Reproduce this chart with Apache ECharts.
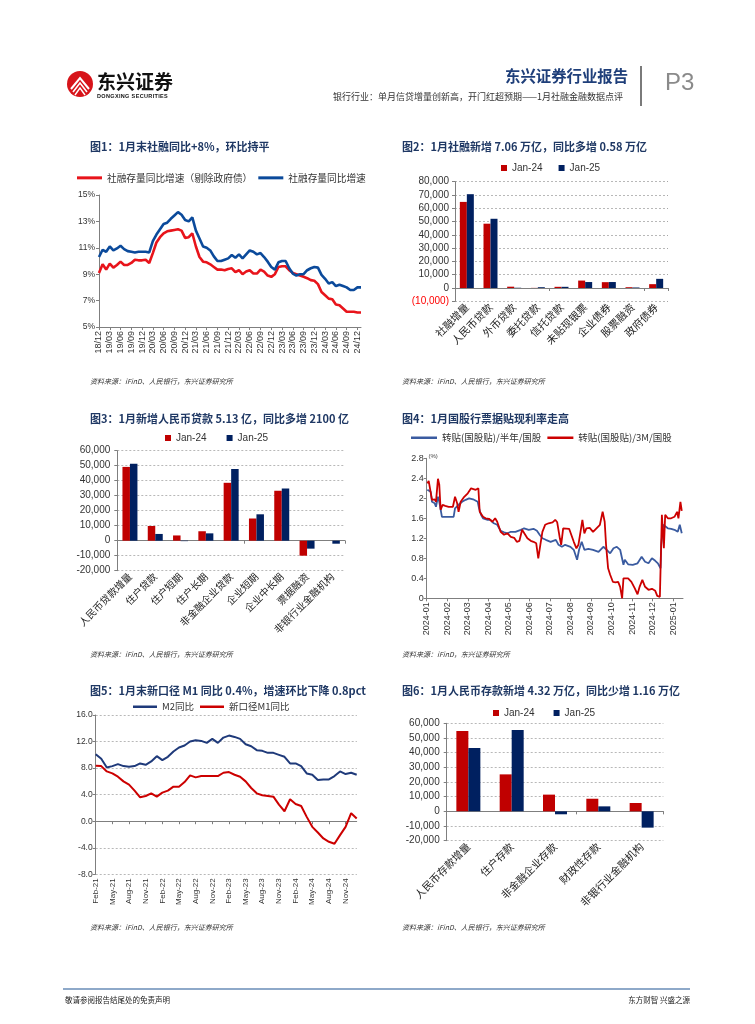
<!DOCTYPE html>
<html><head><meta charset="utf-8">
<script src="https://cdn.jsdelivr.net/npm/echarts/dist/echarts.min.js"></script>
<style>
html,body{margin:0;padding:0;background:#fff;}
#page{position:relative;width:755px;height:1024px;overflow:hidden;font-family:"Noto Sans CJK SC","Liberation Sans",sans-serif;}
#chart{position:absolute;left:0;top:0;width:755px;height:1024px;}
.t{position:absolute;white-space:nowrap;line-height:1;z-index:5;}
.title{font-size:11px;font-weight:bold;color:#1F3864;}
.src{font-size:7px;font-style:italic;color:#333;}
</style></head>
<body>
<div id="page">
  <div id="chart"></div>
  <svg class="t" style="left:66px;top:70px;" width="28" height="28" viewBox="0 0 28 28">
    <circle cx="14" cy="14" r="13" fill="#D7141A"/>
    <path d="M5,19 L14,8 L23,19" stroke="#fff" stroke-width="2" fill="none"/>
    <path d="M7,22 L14,13 L21,22" stroke="#fff" stroke-width="1.6" fill="none"/>
    <path d="M9,25 L14,18 L19,25" stroke="#fff" stroke-width="1.4" fill="none"/>
  </svg>
  <div class="t" style="left:97px;top:71px;font-size:19px;font-weight:bold;color:#111;">东兴证券</div>
  <div class="t" style="left:97px;top:93.5px;font-size:5.5px;font-weight:bold;color:#111;letter-spacing:0.35px;font-family:'Liberation Sans',sans-serif;">DONGXING SECURITIES</div>
  <div class="t" style="left:505px;top:68px;font-size:15.4px;font-weight:bold;color:#1F3F7A;">东兴证券行业报告</div>
  <div class="t" style="left:333px;top:91.5px;font-size:9px;color:#333;">银行行业：单月信贷增量创新高，开门红超预期——1月社融金融数据点评</div>
  <div class="t" style="left:640px;top:66px;width:1.5px;height:40px;background:#7a7a7a;"></div>
  <div class="t" style="left:665px;top:70px;font-size:24px;color:#8a8a8a;font-family:'Liberation Sans',sans-serif;">P3</div>

  <div class="t title" style="left:90px;top:140.5px;">图1：1月末社融同比+8%，环比持平</div>
  <div class="t title" style="left:402px;top:140.5px;">图2：1月社融新增 7.06 万亿，同比多增 0.58 万亿</div>
  <div class="t title" style="left:90px;top:412.5px;">图3：1月新增人民币贷款 5.13 亿，同比多增 2100 亿</div>
  <div class="t title" style="left:402px;top:412.5px;">图4：1月国股行票据贴现利率走高</div>
  <div class="t title" style="left:90px;top:684.5px;">图5：1月末新口径 M1 同比 0.4%，增速环比下降 0.8pct</div>
  <div class="t title" style="left:402px;top:684.5px;">图6：1月人民币存款新增 4.32 万亿，同比少增 1.16 万亿</div>

  <div class="t src" style="left:90px;top:377.5px;">资料来源：iFinD、人民银行，东兴证券研究所</div>
  <div class="t src" style="left:402px;top:377.5px;">资料来源：iFinD、人民银行，东兴证券研究所</div>
  <div class="t src" style="left:90px;top:650.5px;">资料来源：iFinD、人民银行，东兴证券研究所</div>
  <div class="t src" style="left:402px;top:650.5px;">资料来源：iFinD，东兴证券研究所</div>
  <div class="t src" style="left:90px;top:923.5px;">资料来源：iFinD、人民银行，东兴证券研究所</div>
  <div class="t src" style="left:402px;top:923.5px;">资料来源：iFinD、人民银行，东兴证券研究所</div>

  <div class="t" style="left:428.5px;top:453px;font-size:6px;color:#444;font-family:'Liberation Sans',sans-serif;">(%)</div>

  <div class="t" style="left:63px;top:988px;width:627px;height:2px;background:#8EA9C9;"></div>
  <div class="t" style="left:65px;top:996px;font-size:7.5px;color:#222;">敬请参阅报告结尾处的免责声明</div>
  <div class="t" style="right:65px;top:996px;font-size:7.5px;color:#222;">东方财智 兴盛之源</div>
</div>
<script>
// ---------- Chart 1: 社融存量同比 (monthly, 2018/12 - 2025/01) ----------
const months1 = [];
for (let y = 2018, m = 12; !(y === 2025 && m === 2);) {
  months1.push(String(y % 100).padStart(2, '0') + '/' + String(m).padStart(2, '0'));
  m++; if (m > 12) { m = 1; y++; }
}
const tsfExGov = [9.1,
  9.75,9.35,9.8,9.5,9.7,9.95,9.7,9.7,9.85,10.1,10.05,10.05,
  10.1,9.85,10.6,11.4,11.8,12.1,12.25,12.3,12.35,12.4,12.3,11.75,
  11.8,12.1,11.1,10.3,9.95,9.9,9.75,9.55,9.35,9.35,9.3,9.4,
  9.45,9.15,9.3,9.0,9.2,9.3,9.05,9.05,9.35,9.2,8.9,8.8,
  9.0,9.55,9.6,9.6,9.3,9.1,9.0,8.9,8.8,8.7,8.55,8.5,
  8.25,7.65,7.4,7.15,7.1,6.7,6.65,6.4,6.15,6.15,6.15,6.1,
  6.1];
const tsfAll = [10.3,
  10.85,10.7,11.1,10.8,10.95,11.15,10.9,10.75,10.7,10.65,10.7,10.7,
  10.7,10.65,11.5,12.0,12.4,12.8,12.9,13.2,13.45,13.7,13.5,13.1,
  13.0,13.3,12.3,11.7,11.1,11.0,10.8,10.35,10.0,10.0,10.1,10.2,
  10.45,10.25,10.5,10.2,10.5,10.8,10.7,10.5,10.6,10.3,9.95,9.55,
  9.35,9.9,10.0,10.0,9.45,9.05,8.9,9.0,9.0,9.3,9.45,9.55,
  9.5,8.95,8.65,8.3,8.4,8.1,8.2,8.1,8.0,7.8,7.8,8.0,
  8.0];

// ---------- Chart 2: 社融新增 ----------
const cats2 = ['社融增量','人民币贷款','外币贷款','委托贷款','信托贷款','未贴现银票','企业债券','股票融资','政府债券'];
const tsf24 = [64800, 48400, 1000, 100, 900, 5600, 4400, 600, 2900];
const tsf25 = [70600, 52100, 200, 600, 900, 4500, 4500, 400, 6900];

// ---------- Chart 3: 新增人民币贷款 ----------
const cats3 = ['人民币贷款增量','住户贷款','住户短期','住户长期','非金融企业贷款','企业短期','企业中长期','票据融资','非银行业金融机构'];
const loan24 = [49200, 9800, 3500, 6300, 38600, 14800, 33300, -10000, 0];
const loan25 = [51300, 4500, -300, 4900, 47800, 17600, 34800, -5300, -2000];

// ---------- Chart 4: 票据转贴现利率 ----------
const tick4 = ['2024-01','2024-02','2024-03','2024-04','2024-05','2024-06','2024-07','2024-08','2024-09','2024-10','2024-11','2024-12','2025-01'];
const bill6M = [['2024-01-02',2.17],['2024-01-04',2.19],['2024-01-07',2.13],['2024-01-09',1.93],['2024-01-13',1.90],['2024-01-15',1.83],['2024-01-18',2.03],['2024-01-20',1.93],['2024-01-24',1.63],['2024-01-26',1.61],['2024-01-31',1.63],['2024-02-05',1.63],['2024-02-10',1.63],['2024-02-12',1.80],['2024-02-17',1.87],['2024-02-22',1.93],['2024-02-27',1.97],['2024-03-03',2.00],['2024-03-09',1.98],['2024-03-16',1.93],['2024-03-18',1.80],['2024-03-21',1.67],['2024-03-24',1.60],['2024-03-31',1.57],['2024-04-04',1.57],['2024-04-09',1.50],['2024-04-14',1.47],['2024-04-19',1.35],['2024-04-24',1.32],['2024-04-29',1.30],['2024-05-04',1.33],['2024-05-11',1.33],['2024-05-19',1.37],['2024-05-24',1.40],['2024-05-31',1.37],['2024-06-07',1.39],['2024-06-12',1.35],['2024-06-16',1.27],['2024-06-20',1.20],['2024-06-25',1.17],['2024-07-02',1.13],['2024-07-10',1.17],['2024-07-14',1.07],['2024-07-19',1.03],['2024-07-24',1.07],['2024-08-01',1.03],['2024-08-06',0.97],['2024-08-11',0.77],['2024-08-14',0.97],['2024-08-18',1.13],['2024-08-22',0.97],['2024-08-28',0.99],['2024-09-04',0.97],['2024-09-12',0.93],['2024-09-19',1.03],['2024-09-24',0.97],['2024-09-29',0.90],['2024-10-04',1.00],['2024-10-09',1.03],['2024-10-14',0.97],['2024-10-19',0.67],['2024-10-21',0.77],['2024-10-26',0.68],['2024-11-02',0.67],['2024-11-09',0.70],['2024-11-15',0.83],['2024-11-20',0.73],['2024-11-25',0.70],['2024-11-30',0.80],['2024-12-05',0.75],['2024-12-09',0.70],['2024-12-13',0.60],['2024-12-14',1.07],['2024-12-17',1.47],['2024-12-20',1.43],['2024-12-24',1.40],['2024-12-29',1.39],['2025-01-03',1.37],['2025-01-08',1.33],['2025-01-11',1.47],['2025-01-14',1.30]];
const bill3M = [['2024-01-02',2.30],['2024-01-04',2.35],['2024-01-07',2.32],['2024-01-09',1.97],['2024-01-13',1.98],['2024-01-15',1.93],['2024-01-18',2.39],['2024-01-20',2.27],['2024-01-22',1.77],['2024-01-25',1.87],['2024-01-29',1.85],['2024-02-03',1.83],['2024-02-09',1.83],['2024-02-12',2.03],['2024-02-15',1.90],['2024-02-17',1.73],['2024-02-20',1.93],['2024-02-25',2.03],['2024-03-01',2.10],['2024-03-06',2.20],['2024-03-09',2.23],['2024-03-13',2.17],['2024-03-17',2.20],['2024-03-19',1.73],['2024-03-22',1.70],['2024-03-24',1.63],['2024-03-28',1.60],['2024-04-02',1.59],['2024-04-07',1.53],['2024-04-11',1.60],['2024-04-14',1.53],['2024-04-19',1.33],['2024-04-24',1.27],['2024-04-29',1.30],['2024-05-04',1.23],['2024-05-09',1.21],['2024-05-13',1.13],['2024-05-17',1.15],['2024-05-21',1.37],['2024-05-24',1.33],['2024-05-29',1.20],['2024-06-03',1.15],['2024-06-07',1.13],['2024-06-11',1.10],['2024-06-14',0.80],['2024-06-17',1.07],['2024-06-20',1.33],['2024-06-24',1.47],['2024-06-29',1.50],['2024-07-05',1.52],['2024-07-09',1.57],['2024-07-12',1.52],['2024-07-16',1.20],['2024-07-18',1.07],['2024-07-21',1.40],['2024-07-24',1.40],['2024-07-30',1.39],['2024-08-02',1.41],['2024-08-06',1.13],['2024-08-10',1.00],['2024-08-13',1.07],['2024-08-17',1.40],['2024-08-19',1.57],['2024-08-22',1.30],['2024-08-25',1.40],['2024-08-30',1.41],['2024-09-04',1.33],['2024-09-09',1.40],['2024-09-14',1.47],['2024-09-18',1.73],['2024-09-21',1.53],['2024-09-23',1.07],['2024-09-26',0.60],['2024-09-29',0.47],['2024-10-03',0.33],['2024-10-07',0.32],['2024-10-11',0.33],['2024-10-14',0.23],['2024-10-17',0.00],['2024-10-19',0.40],['2024-10-21',0.43],['2024-10-26',0.40],['2024-10-31',0.33],['2024-11-05',0.20],['2024-11-09',0.08],['2024-11-12',0.23],['2024-11-16',0.37],['2024-11-20',0.23],['2024-11-25',0.17],['2024-11-30',0.19],['2024-12-05',0.15],['2024-12-08',0.05],['2024-12-12',0.03],['2024-12-13',0.01],['2024-12-15',1.67],['2024-12-18',1.00],['2024-12-20',1.67],['2024-12-24',1.60],['2024-12-29',1.60],['2025-01-03',1.63],['2025-01-07',1.73],['2025-01-09',1.60],['2025-01-12',1.93],['2025-01-14',1.75]];

// ---------- Chart 5: M1 / M2 (monthly, Feb-21 - Jan-25) ----------
const monNames = ['Jan','Feb','Mar','Apr','May','Jun','Jul','Aug','Sep','Oct','Nov','Dec'];
const months5 = [];
for (let y = 2021, m = 2; !(y === 2025 && m === 2);) {
  months5.push(monNames[m - 1] + '-' + String(y % 100));
  m++; if (m > 12) { m = 1; y++; }
}
const m2yoy = [10.1,9.4,8.1,8.3,8.6,8.3,8.2,8.3,8.7,8.5,9.0,
  9.8,9.2,9.7,10.5,11.1,11.4,12.0,12.2,12.1,11.8,12.4,11.8,
  12.6,12.9,12.7,12.4,11.6,11.3,10.7,10.6,10.3,10.3,10.0,9.7,
  8.7,8.7,8.3,7.2,7.0,6.2,6.3,6.3,6.8,7.5,7.1,7.3,
  7.0];
const m1new = [8.35,8.3,7.5,7.2,6.7,6.0,5.5,4.6,3.6,3.8,4.2,
  3.7,4.3,4.6,5.2,5.2,5.9,6.9,6.6,6.8,6.8,6.8,6.8,
  7.3,7.4,7.0,6.7,6.0,5.0,4.2,3.9,3.8,3.7,2.5,1.5,
  3.3,2.6,2.3,0.65,-0.85,-1.7,-2.6,-3.1,-3.4,-2.1,-0.85,1.2,
  0.4];

// ---------- Chart 6: 人民币存款新增 ----------
const cats6 = ['人民币存款增量','住户存款','非金融企业存款','财政性存款','非银行业金融机构'];
const dep24 = [54800, 25200, 11400, 8600, 5700];
const dep25 = [43200, 55400, -2000, 3400, -11100];

// ---------- helpers ----------
const NUM = '"Liberation Sans", Arial, sans-serif';
const NARROW = '"Liberation Sans Narrow", "Liberation Sans", Arial, sans-serif';
const CJK = '"Noto Sans CJK SC", sans-serif';
const RED = '#C00000', NAVY = '#002060';
const gray = '#7f7f7f';
const every3 = (i) => i % 3 === 0;
const dashed = {show: true, lineStyle: {color: '#a6a6a6', type: [2, 2], width: 0.8}};
function mpos(s) {
  const [y, m, d] = s.split('-').map(Number);
  const dim = new Date(y, m, 0).getDate();
  return (y - 2024) * 12 + (m - 1) + (d - 1) / dim;
}
const fmtK = (v) => Math.abs(v).toLocaleString('en-US');

function barLabelAxis(gi, cats, fs) {
  return {gridIndex: gi, type: 'category', data: cats, position: 'bottom',
    axisLine: {show: false, onZero: false}, axisTick: {show: false},
    axisLabel: {interval: 0, rotate: 45, fontSize: fs, color: '#222', margin: 4, fontFamily: CJK}};
}
function barLineAxis(gi, cats) {
  return {gridIndex: gi, type: 'category', data: cats, position: 'bottom',
    axisLine: {show: true, onZero: true, lineStyle: {color: gray}},
    axisTick: {show: true, length: 3, lineStyle: {color: gray}},
    axisLabel: {show: false}};
}
function barY(gi, min, max, extra) {
  return Object.assign({gridIndex: gi, type: 'value', min: min, max: max, interval: 10000,
    axisLine: {show: true, lineStyle: {color: gray}},
    axisTick: {show: true, length: 3, lineStyle: {color: gray}},
    splitLine: dashed,
    axisLabel: {fontSize: 10, color: '#333', margin: 7, fontFamily: NUM}}, extra || {});
}
function barSeries(name, xi, yi, data, color, w) {
  return {name: name, type: 'bar', xAxisIndex: xi, yAxisIndex: yi, data: data,
    barWidth: w, barGap: '0%', itemStyle: {color: color}};
}
function lineSeries(name, xi, yi, data, color, w) {
  return {name: name, type: 'line', xAxisIndex: xi, yAxisIndex: yi, data: data,
    symbol: 'none', showSymbol: false, lineStyle: {color: color, width: w}, itemStyle: {color: color}};
}
function barLegend(left, top, gap) {
  return {left: left, top: top, data: ['Jan-24', 'Jan-25'], icon: 'rect', itemWidth: 6, itemHeight: 6,
    itemGap: gap, padding: 0, textStyle: {fontSize: 10, color: '#333', fontFamily: NUM}};
}

const chart = echarts.init(document.getElementById('chart'), null, {renderer: 'canvas'});
const option = {
  animation: false,
  backgroundColor: 'transparent',
  grid: [
    {left: 99, top: 195, width: 262, height: 132, outerBoundsMode: 'none'},
    {left: 455, top: 181.7, width: 213, height: 119.6, outerBoundsMode: 'none'},
    {left: 117.3, top: 450.7, width: 227.7, height: 120, outerBoundsMode: 'none'},
    {left: 426.7, top: 458.3, width: 256.3, height: 140, outerBoundsMode: 'none'},
    {left: 95.7, top: 715, width: 261, height: 159.3, outerBoundsMode: 'none'},
    {left: 446.7, top: 723.3, width: 216.6, height: 117.4, outerBoundsMode: 'none'}
  ],
  legend: [
    {left: 77, top: 173, data: ['社融存量同比增速（剔除政府债）', '社融存量同比增速'], icon: 'rect',
      itemWidth: 25, itemHeight: 3, itemGap: 6, padding: 0,
      textStyle: {fontSize: 9.7, color: '#333', fontFamily: CJK}},
    barLegend(501, 163, 16),
    barLegend(165, 433, 20),
    {left: 411, top: 433, data: ['转贴(国股贴)/半年/国股', '转贴(国股贴)/3M/国股'], icon: 'rect',
      itemWidth: 26, itemHeight: 2.5, itemGap: 6, padding: 0,
      textStyle: {fontSize: 9.5, color: '#333', fontFamily: CJK}},
    {left: 133, top: 702, data: ['M2同比', '新口径M1同比'], icon: 'rect',
      itemWidth: 24, itemHeight: 2.5, itemGap: 6, padding: 0,
      textStyle: {fontSize: 9.5, color: '#333', fontFamily: CJK}},
    barLegend(493, 708, 19)
  ],
  xAxis: [
    {gridIndex: 0, type: 'category', data: months1, boundaryGap: false,
      axisLine: {lineStyle: {color: gray}},
      axisTick: {interval: every3, length: 3, lineStyle: {color: gray}},
      axisLabel: {interval: every3, rotate: 90, fontSize: 9, color: '#333', margin: 4, fontFamily: NARROW}},
    barLabelAxis(1, cats2, 10.5), barLineAxis(1, cats2),
    barLabelAxis(2, cats3, 10), barLineAxis(2, cats3),
    {gridIndex: 3, type: 'value', min: 0, max: 12.48, interval: 1,
      axisLine: {show: true, onZero: false, lineStyle: {color: gray}},
      axisTick: {show: true, length: 3, lineStyle: {color: gray}},
      splitLine: {show: false},
      axisLabel: {rotate: 90, fontSize: 9, color: '#333', margin: 4, fontFamily: NUM, showMaxLabel: false,
        formatter: (v) => Math.abs(v - Math.round(v)) < 1e-6 ? (tick4[Math.round(v)] || '') : ''}},
    {gridIndex: 4, type: 'category', data: months5, boundaryGap: false, position: 'bottom',
      axisLine: {show: false, onZero: false}, axisTick: {show: false},
      axisLabel: {interval: every3, rotate: 90, fontSize: 8, color: '#333', margin: 4, fontFamily: NUM}},
    {gridIndex: 4, type: 'category', data: months5, boundaryGap: false, position: 'bottom',
      axisLine: {show: true, onZero: true, lineStyle: {color: gray}},
      axisTick: {show: true, interval: every3, length: 3, lineStyle: {color: gray}},
      axisLabel: {show: false}},
    barLabelAxis(5, cats6, 10.5), barLineAxis(5, cats6)
  ],
  yAxis: [
    {gridIndex: 0, type: 'value', min: 5, max: 15, interval: 2,
      axisLine: {show: true, lineStyle: {color: gray}},
      axisTick: {show: true, length: 3, lineStyle: {color: gray}},
      splitLine: {show: false},
      axisLabel: {formatter: '{value}%', fontSize: 8.5, color: '#333', margin: 4, fontFamily: NARROW}},
    barY(1, -10000, 80000, {axisLabel: {fontSize: 10, color: '#333', margin: 6, fontFamily: NUM,
      formatter: (v) => v < 0 ? '{n|(' + fmtK(v) + ')}' : fmtK(v),
      rich: {n: {color: '#FF0000', fontSize: 10, fontFamily: NUM}}}}),
    barY(2, -20000, 60000),
    {gridIndex: 3, type: 'value', min: 0, max: 2.8, interval: 0.4,
      axisLine: {show: true, lineStyle: {color: gray}},
      axisTick: {show: true, length: 3, lineStyle: {color: gray}},
      splitLine: {show: false},
      axisLabel: {fontSize: 9, color: '#333', margin: 3, fontFamily: NUM,
        formatter: (v) => String(+v.toFixed(1))}},
    {gridIndex: 4, type: 'value', min: -8, max: 16, interval: 4,
      axisLine: {show: true, lineStyle: {color: gray}},
      axisTick: {show: true, length: 3, lineStyle: {color: gray}},
      splitLine: dashed,
      axisLabel: {fontSize: 8.5, color: '#333', margin: 3, fontFamily: NUM,
        formatter: (v) => v.toFixed(1)}},
    barY(5, -20000, 60000)
  ],
  series: [
    lineSeries('社融存量同比增速（剔除政府债）', 0, 0, tsfExGov, '#E8141B', 2.6),
    lineSeries('社融存量同比增速', 0, 0, tsfAll, '#0B4A9B', 2.6),
    barSeries('Jan-24', 1, 1, tsf24, RED, 7),
    barSeries('Jan-25', 1, 1, tsf25, NAVY, 7),
    barSeries('Jan-24', 3, 2, loan24, RED, 7.5),
    barSeries('Jan-25', 3, 2, loan25, NAVY, 7.5),
    lineSeries('转贴(国股贴)/半年/国股', 5, 3, bill6M.map(p => [mpos(p[0]), p[1]]), '#3A5BA0', 1.8),
    lineSeries('转贴(国股贴)/3M/国股', 5, 3, bill3M.map(p => [mpos(p[0]), p[1]]), '#CC0000', 1.8),
    lineSeries('M2同比', 6, 4, m2yoy, '#1F3A7A', 2),
    lineSeries('新口径M1同比', 6, 4, m1new, '#CC0000', 2),
    barSeries('Jan-24', 8, 5, dep24, RED, 12),
    barSeries('Jan-25', 8, 5, dep25, NAVY, 12)
  ]
};
chart.setOption(option);
</script>
</body></html>
